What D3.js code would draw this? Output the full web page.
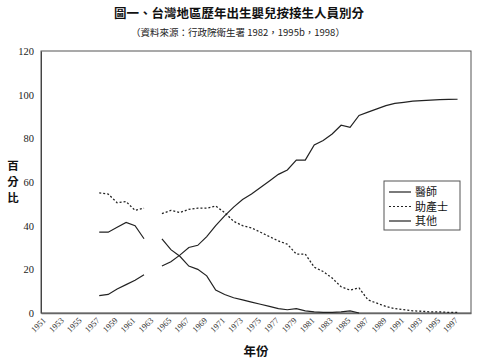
<!DOCTYPE html>
<html>
<head>
<meta charset="utf-8">
<script src="https://cdn.jsdelivr.net/npm/d3@7"></script>
<style>
body{margin:0;background:#fff;}
</style>
</head>
<body>
<div id="chart"></div>
<script>
// categories 1951..1998
let years = d3.range(1951, 1999);
let yTicks = [0, 20, 40, 60, 80, 100, 120];

// values from 1957 to 1997 (null = no data)
let doctor = [8, 8.5, 11, 13, 15, 17.5, null,
  21.5, 23.5, 26.5, 30, 31, 35, 40, 44.5, 48.5, 52, 54.5, 57.5, 60.5, 63.5, 65.5, 70, 70,
  77, 79, 82, 86, 85, 90.5, 92, 93.5, 95, 96, 96.5, 97, 97.3, 97.5, 97.7, 97.8, 97.9];
let midwife = [55, 54.5, 50.5, 51, 47, 48, null,
  45.5, 47, 46, 47.5, 48, 48, 49, 46, 42, 40, 39, 37, 35, 33, 31.5, 27, 27,
  21, 19, 16, 12, 10.5, 11.5, 6, 4.5, 3, 2, 1.5, 1, 0.8, 0.5, 0.5, 0.3, 0.3];
let other = [37, 37, 39.3, 41.5, 40, 34, null,
  34, 29, 26, 21.5, 20, 17, 10.5, 8.5, 7, 6, 5, 4, 3, 2, 1.5, 2, 1,
  0.5, 0.3, 0.3, 0.5, 1, 0];
let firstYear = 1957;
let seriesNames = ["醫師", "助產士", "其他"];

var svg = d3.select("#chart").append("svg")
  .attr("width", 479).attr("height", 363);

var margin = {top: 51, left: 41, right: 8, bottom: 50};
var W = 479 - margin.left - margin.right;
var H = 363 - margin.top - margin.bottom;

var x = d3.scaleBand().domain(years).range([margin.left, margin.left + W]);
var y = d3.scaleLinear().domain([0, 120]).range([margin.top + H, margin.top]);

var serif = "Liberation Serif, DejaVu Serif, serif";
var cjk = "Noto Sans CJK TC, Noto Sans CJK SC, sans-serif";

// title
svg.append("text").attr("x", 239).attr("y", 18)
  .attr("text-anchor", "middle").attr("font-family", cjk)
  .attr("font-size", "12.5px").attr("font-weight", "bold").attr("fill", "#111")
  .text("圖一、台灣地區歷年出生嬰兒按接生人員別分");
svg.append("text").attr("x", 238).attr("y", 36)
  .attr("text-anchor", "middle").attr("font-family", cjk)
  .attr("font-size", "9.5px").attr("fill", "#222")
  .text("（資料來源：行政院衛生署 1982，1995b，1998）");

// frame
svg.append("rect").attr("x", margin.left).attr("y", margin.top)
  .attr("width", W).attr("height", H)
  .attr("fill", "none").attr("stroke", "#555").attr("stroke-width", 1);

// y axis
var yaxis = d3.axisLeft(y).tickValues(yTicks).tickSize(0).tickPadding(7);
var gy = svg.append("g").attr("transform", `translate(${margin.left},0)`).call(yaxis);
gy.attr("font-family", serif);
gy.select(".domain").attr("stroke", "#444");
gy.selectAll("text").attr("font-family", serif).attr("font-size", "10.5px").attr("fill", "#222");

// x axis
var xaxis = d3.axisBottom(x).tickValues(years.filter(d => (d - 1951) % 2 == 0)).tickSize(0);
var gx = svg.append("g").attr("transform", `translate(0,${margin.top + H})`).call(xaxis);
gx.attr("font-family", serif);
gx.select(".domain").attr("stroke", "#666").attr("stroke-width", 1.6);
gx.selectAll("text")
  .attr("font-family", serif).attr("font-size", "8.5px").attr("fill", "#333")
  .attr("text-anchor", "end")
  .attr("dy", null).attr("y", 0)
  .attr("transform", "translate(1,8) rotate(-45)");

// axis titles
["百", "分", "比"].forEach((c, i) => {
  svg.append("text").attr("x", 13).attr("y", 170 + i * 16)
    .attr("font-family", cjk).attr("font-size", "11.5px")
    .attr("font-weight", "bold").attr("fill", "#111").attr("text-anchor", "middle")
    .text(c);
});
svg.append("text").attr("x", 256).attr("y", 356)
  .attr("text-anchor", "middle").attr("font-family", cjk)
  .attr("font-size", "12.5px").attr("font-weight", "bold").attr("fill", "#111")
  .text("年份");

// lines
var line = d3.line()
  .defined(d => d.v != null)
  .x(d => x(d.year) + x.bandwidth() / 2)
  .y(d => y(d.v));

function toPts(arr){
  return arr.map((v, i) => ({year: firstYear + i, v: v}));
}

var series = [
  {name: seriesNames[0], data: doctor, dash: null},
  {name: seriesNames[1], data: midwife, dash: "2,2"},
  {name: seriesNames[2], data: other, dash: null}
];

series.forEach(s => {
  svg.append("path")
    .datum(toPts(s.data))
    .attr("d", line)
    .attr("fill", "none")
    .attr("stroke", "#222")
    .attr("stroke-width", s.dash ? 1.3 : 1.2)
    .attr("stroke-dasharray", s.dash);
});

// legend
var lg = svg.append("g");
lg.append("rect").attr("x", 384).attr("y", 181).attr("width", 76).attr("height", 49)
  .attr("fill", "#fff").attr("stroke", "#555");
series.forEach((s, i) => {
  var ly = 192 + i * 14.5;
  lg.append("line").attr("x1", 389).attr("x2", 411).attr("y1", ly).attr("y2", ly)
    .attr("stroke", "#222").attr("stroke-width", 1.2).attr("stroke-dasharray", s.dash);
  lg.append("text").attr("x", 415).attr("y", ly + 4)
    .attr("font-family", cjk).attr("font-size", "11px").attr("fill", "#111")
    .text(s.name);
});
</script>
</body>
</html>
